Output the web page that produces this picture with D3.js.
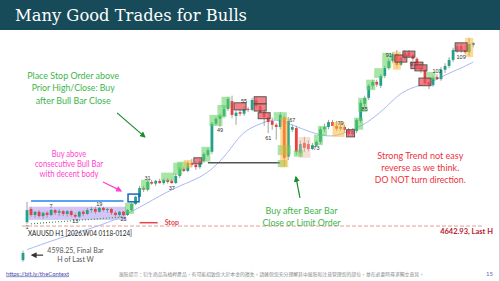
<!DOCTYPE html>
<html><head><meta charset="utf-8">
<script src="https://cdn.jsdelivr.net/npm/d3@7"></script>
<style>html,body{margin:0;padding:0;background:#fff;}svg{display:block}</style>
</head><body>
<svg id="c" width="500" height="281"></svg>
<script>
// ---------- data (XAUUSD H1, 2026.W04) ----------
const barIndex = d3.range(0, 113);
const open = [4581,4650,4674,4663,4669,4661,4667,4663,4672,4667,4670,4665,4670,4663,4660,4669,4665,4672,4674,4669,
4676,4672,4674,4667,4663,4669,4663,4672,4683,4696,4712,4709,4723,4720,4725,4721,4727,4725,4721,4734,
4747,4743,4758,4754,4750,4761,4772,4778,4829,4838,4843,4856,4870,4843,4850,4847,4856,4854,4872,4861,
4850,4841,4834,4827,4823,4840,4769,4818,4821,4776,4794,4792,4783,4789,4796,4819,4823,4832,4825,4820,
4823,4818,4810,4816,4834,4865,4876,4898,4905,4898,4916,4930,4943,4956,4936,4949,4959,4954,4947,4932,
4927,4905,4899,4914,4910,4927,4934,4945,4961,4970,4963,4959,4972];
const high = [4598.25,4687,4678,4670,4672,4669,4670,4674,4674,4674,4672,4672,4672,4667,4670,4672,4676,4678,4678,4678,
4678,4676,4676,4670,4670,4670,4674,4685,4698,4716,4716,4727,4727,4727,4729,4729,4730,4729,4738,4750,
4750,4761,4765,4761,4765,4777,4785,4832,4841,4847,4860,4878,4880,4852,4856,4861,4859,4876,4878,4867,
4856,4848,4840,4830,4850,4843,4841,4827,4825,4798,4805,4799,4794,4799,4823,4829,4836,4836,4834,4830,
4827,4821,4821,4839,4872,4880,4901,4909,4909,4919,4934,4947,4959,4963,4954,4963,4963,4958,4950,4938,
4934,4912,4916,4919,4932,4939,4950,4967,4976,4976,4972,4985,4977];
const low = [4578,4647,4660,4658,4658,4656,4658,4661,4663,4661,4661,4660,4660,4658,4658,4661,4663,4667,4665,4667,
4669,4667,4663,4660,4660,4661,4661,4670,4681,4694,4705,4706,4718,4716,4720,4718,4720,4720,4720,4730,
4741,4741,4750,4745,4747,4758,4769,4774,4825,4823,4839,4852,4839,4827,4843,4843,4850,4852,4856,4847,
4825,4812,4818,4800,4819,4752,4763,4814,4772,4769,4778,4779,4781,4787,4792,4814,4819,4825,4816,4816,
4814,4805,4807,4812,4830,4859,4872,4892,4896,4894,4912,4927,4939,4930,4934,4945,4949,4943,4928,4921,
4898,4892,4896,4909,4907,4921,4930,4941,4958,4958,4956,4952,4968];
const close = [4594,4672,4663,4669,4661,4667,4663,4672,4667,4670,4665,4670,4663,4660,4669,4665,4672,4674,4669,4676,
4672,4674,4667,4663,4669,4663,4672,4683,4696,4712,4709,4723,4720,4725,4721,4727,4723,4721,4734,4747,
4743,4758,4754,4750,4761,4774,4781,4829,4838,4843,4856,4874,4845,4849,4847,4856,4854,4872,4861,4850,
4841,4832,4827,4823,4845,4767,4834,4823,4778,4792,4785,4783,4790,4796,4819,4823,4832,4825,4820,4823,
4818,4810,4816,4836,4867,4876,4898,4905,4900,4916,4930,4943,4956,4936,4949,4959,4952,4947,4932,4927,
4903,4899,4912,4910,4927,4934,4945,4963,4970,4963,4959,4974,4976];

// moving average points
const maBars   = [1,9,19,25,30,38,43,47,51,54,57,60,63,67,72,76,79,83,86,91,94,99,102,105,109,112];
const maValues = [4600,4621,4643,4661,4681,4714,4727,4745,4776,4809,4823,4832,4838,4827,4812,4805,4809,4821,4832,4863,4887,4900,4905,4918,4930,4941];

// bar-count labels
const labelBars   = [1,7,13,19,25,31,37,49,55,61,67,73,79,85,91,97,103,109];
const labelPrices = [4641,4680,4652,4683,4655,4731,4713,4817,4871,4803,4836,4785,4830,4855,4954,4938,4925,4950];

// highlight boxes: [firstBar, lastBar, topPrice, bottomPrice]
const greenBoxes = [[26,27,4685,4665],[30,31,4727,4709],[35,37,4740,4725],[38,39,4758,4736],[39,40,4760,4745],
  [45,46,4787,4760],[47,49,4845,4825],[49,50,4863,4841],[50,51,4878,4858],[63,65,4850,4836],[64,66,4790,4772],
  [64,65,4763,4750],[68,69,4781,4769],[73,74,4809,4790],[74,75,4825,4807],[83,84,4840,4818],[84,85,4876,4850],
  [86,87,4909,4890],[88,89,4930,4912],[90,91,4958,4930],[101,102,4923,4909]];
const orangeBoxes = [[41,41,4763,4749],[65,65,4840,4750],[78,79,4832,4805],[93,93,4960,4927],[111,111,4985,4950]];
const redBoxes = [[43,44,4767,4756],[53,55,4867,4854],[58,60,4878,4865],[58,60,4865,4852],[59,61,4849,4838],
  [81,82,4818,4805],[93,95,4954,4941],[95,97,4961,4950],[97,99,4941,4929],[98,100,4936,4925],[99,101,4912,4898],[108,110,4976,4961]];
const beigeBoxes = [[69,71,4805,4767]];
const rangeBox = [2,25,4678,4654];
const blueBox = [27,28,4701,4687];

const priorHighLine = [[2,4688.6],[25,4688.6]];
const trendLine = [[2,4647],[25,4659.5]];
const entryLine = [[46,4758],[64,4758]];
const stopLine = [[29,4649],[33.5,4649]];
const lastWeekHigh = 4642.93;
const finalBarHigh = 4598.25;

// ---------- drawing ----------
const svg = d3.select('#c');
const x = d3.scaleLinear().domain([0,112]).range([23,473.2]);
const y = d3.scaleLinear().domain([4560,4990]).range([271.65,35.15]);

svg.append('rect').attr('width',500).attr('height',281).attr('fill','#fff');
svg.append('rect').attr('width',500).attr('height',30).attr('fill','#174b59');
svg.append('line').attr('x1',499.5).attr('x2',499.5).attr('y1',30).attr('y2',281).attr('stroke','#d0d0d0');
svg.append('text').attr('x',15).attr('y',20.7).attr('textLength',232).attr('lengthAdjust','spacingAndGlyphs')
  .style('font-family','DejaVu Serif').style('font-size','16.5px').style('fill','#fff')
  .text('Many Good Trades for Bulls');

const defs = svg.append('defs');
function marker(id,color){
  defs.append('marker').attr('id',id).attr('viewBox','0 0 10 10').attr('refX',8).attr('refY',5)
    .attr('markerWidth',5).attr('markerHeight',5).attr('orient','auto')
    .append('path').attr('d','M0,0L10,5L0,10z').attr('fill',color);
}
marker('mg','#1a8c2a'); marker('mm','#ff3fcf'); marker('mk','#333');

function boxRect(b,pad){
  return {x:x(b[0])-pad, w:x(b[1])-x(b[0])+2*pad, y:y(b[2]), h:y(b[3])-y(b[2])};
}
// range box (beneath)
{ const r = boxRect(rangeBox,2.5);
  svg.append('rect').attr('x',r.x).attr('y',r.y).attr('width',r.w).attr('height',r.h).attr('fill','#cbbcf5').attr('opacity',0.85); }

// last week high dashed line
svg.append('line').attr('x1',22).attr('x2',482).attr('y1',y(lastWeekHigh)).attr('y2',y(lastWeekHigh))
  .attr('stroke','#e79a9a').attr('stroke-width',1).attr('stroke-dasharray','4,2');

// MA
svg.append('path').datum(maBars.map((b,i)=>[b,maValues[i]]))
  .attr('d',d3.line().x(d=>x(d[0])).y(d=>y(d[1])).curve(d3.curveBasis))
  .attr('fill','none').attr('stroke','#a9b9f3').attr('stroke-width',1);

const line = d3.line().x(d=>x(d[0])).y(d=>y(d[1]));
svg.append('path').attr('d',line(priorHighLine)).attr('stroke','#5aa5ef').attr('stroke-width',2).attr('fill','none');
svg.append('path').attr('d',line(trendLine)).attr('stroke','#2e9e3e').attr('stroke-width',1.2).attr('stroke-dasharray','1,2').attr('fill','none');
svg.append('path').attr('d',line(entryLine)).attr('stroke','#555').attr('stroke-width',1.3).attr('fill','none');
svg.append('path').attr('d',line(stopLine)).attr('stroke','#e8424a').attr('stroke-width',1.5).attr('fill','none');
svg.append('text').attr('x',x(stopLine[1][0])+7).attr('y',y(stopLine[0][1])+2.5)
  .style('font-family','Lato').style('font-size','7px').style('font-weight','bold').style('fill','#e8424a').text('Stop');

// candles
const bull='#22a08a', bear='#e8403f';
const cg = svg.append('g');
barIndex.forEach(i=>{
  const up = close[i]>=open[i];
  cg.append('line').attr('x1',x(i)).attr('x2',x(i)).attr('y1',y(high[i])).attr('y2',y(low[i]))
    .attr('stroke','#8c8c8c').attr('stroke-width',0.8);
  const t = y(Math.max(open[i],close[i])), b = y(Math.min(open[i],close[i]));
  cg.append('rect').attr('x',x(i)-1.4).attr('width',2.8).attr('y',t).attr('height',Math.max(1,b-t))
    .attr('fill',up?bull:bear);
});

// highlights
function drawBoxes(list,pad,fill,op,stroke){
  list.forEach(b=>{ const r=boxRect(b,pad);
    const el=svg.append('rect').attr('x',r.x).attr('y',r.y).attr('width',r.w).attr('height',r.h)
      .attr('fill',fill).attr('fill-opacity',op);
    if(stroke) el.attr('stroke',stroke).attr('stroke-width',0.9);
  });
}
drawBoxes(beigeBoxes,2,'#eab79e',0.45);
drawBoxes(greenBoxes,2.5,'#5fcf5f',0.55);
drawBoxes(orangeBoxes,4,'#ffb83a',0.55);
drawBoxes(redBoxes,2,'#f0505a',0.72,'#4a4a4a');
{ const r = boxRect(blueBox,3.5);
  svg.append('rect').attr('x',r.x).attr('y',r.y).attr('width',r.w).attr('height',r.h)
    .attr('fill','none').attr('stroke','#1565c0').attr('stroke-width',1.5); }

// bar labels
labelBars.forEach((b,i)=>{
  svg.append('text').attr('x',x(b)).attr('y',y(labelPrices[i])).attr('text-anchor','middle').attr('dominant-baseline','central')
    .style('font-family','Liberation Sans').style('font-size','5.5px').style('fill','#333').text(b);
});

// annotation text blocks
function block(lines,cx,baselines,size,color,widths){
  lines.forEach((t,i)=>{
    svg.append('text').attr('x',cx).attr('y',baselines[i]).attr('text-anchor','middle')
      .attr('textLength',widths[i]).attr('lengthAdjust','spacingAndGlyphs')
      .style('font-family','Lato').style('font-size',size+'px').style('fill',color).text(t);
  });
}
block(['Place Stop Order above','Prior High/Close: Buy','after Bull Bar Close'],73.2,[78.5,91,103.5],9.5,'#3bb54a',[92,83,75]);
block(['Buy above','consecutive Bull Bar','with decent body'],69,[157.3,167.3,177.3],8.5,'#ff3fcf',[34.5,68,59]);
block(['Buy after Bear Bar','Close or Limit Order'],301.5,[214,225.5],10,'#3bb54a',[72,78]);
block(['Strong Trend not easy','reverse as we think.','DO NOT turn direction.'],420.3,[159,171,183],10,'#f0303c',[86,78,91]);

// arrows (in data space)
function arrow(a,b,color,id){
  svg.append('line').attr('x1',x(a[0])).attr('y1',y(a[1])).attr('x2',x(b[0])).attr('y2',y(b[1]))
    .attr('stroke',color).attr('stroke-width',1.2).attr('marker-end','url(#'+id+')');
}
arrow([23.4,4848.6],[30.3,4805],'#1a8c2a','mg');
arrow([19.9,4723],[24.4,4706.8],'#ff3fcf','mm');
arrow([68.9,4694],[67.9,4732],'#1a8c2a','mg');
arrow([5,4590],[2.2,4590],'#333','mk');

svg.append('text').attr('x',28).attr('y',235.5).attr('textLength',104).attr('lengthAdjust','spacingAndGlyphs')
  .style('font-family','Lato').style('font-size','7.5px').style('fill','#222').text('XAUUSD H1 [2026.W04 0118-0124]');
svg.append('text').attr('x',75.5).attr('y',253).attr('text-anchor','middle')
  .style('font-family','Lato').style('font-size','7px').style('fill','#555').text(finalBarHigh+', Final Bar');
svg.append('text').attr('x',75.5).attr('y',261.5).attr('text-anchor','middle')
  .style('font-family','Lato').style('font-size','7px').style('fill','#555').text('H of Last W');
svg.append('text').attr('x',493).attr('y',y(lastWeekHigh)+7.5).attr('text-anchor','end')
  .style('font-family','Lato').style('font-size','7.5px').style('font-weight','bold').style('fill','#b8202e').text(lastWeekHigh+', Last H');

// footer
svg.append('text').attr('x',6).attr('y',275.5).attr('textLength',63).attr('lengthAdjust','spacingAndGlyphs')
  .style('font-family','Lato').style('font-size','6px').style('fill','#4b4bb0').style('text-decoration','underline')
  .text('https://bit.ly/theContext');
svg.append('text').attr('x',119).attr('y',275.5).attr('textLength',305).attr('lengthAdjust','spacingAndGlyphs')
  .style('font-family','Noto Sans CJK TC').style('font-size','4.9px').style('fill','#888')
  .text('風險提示：衍生商品為槓桿產品，有可能招致您大於本金的損失。請確保您充分理解其中風險和注意管理您的部位，並在必要時尋求獨立意見。');
svg.append('text').attr('x',486).attr('y',275.5)
  .style('font-family','Lato').style('font-size','6px').style('fill','#6b5fb5').text('15');
</script>
</body></html>
